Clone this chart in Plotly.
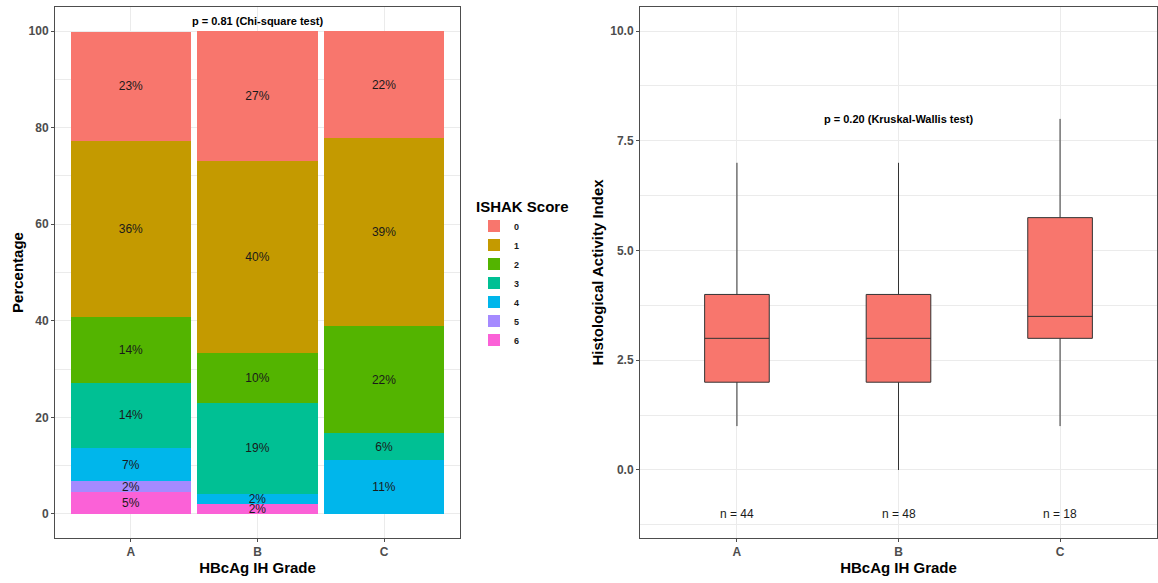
import plotly.graph_objects as go

# ---------------- data ----------------
grades = ["A", "B", "C"]
ishak_scores = ["0", "1", "2", "3", "4", "5", "6"]
# percentage of each ISHAK score within each grade
pct_A = [22.7, 36.4, 13.6, 13.6, 6.8, 2.3, 4.5]
pct_B = [27.1, 39.6, 10.4, 18.8, 2.1, 0.0, 2.1]
pct_C = [22.2, 38.9, 22.2, 5.6, 11.1, 0.0, 0.0]
score_colors = ["#F8766D", "#C49A00", "#53B400", "#00C094", "#00B6EB", "#A58AFF", "#FB61D7"]

# box statistics of Histological Activity Index per grade
hai_lower = [1.0, 0.0, 1.0]
hai_q1 = [2.0, 2.0, 3.0]
hai_median = [3.0, 3.0, 3.5]
hai_q3 = [4.0, 4.0, 5.75]
hai_upper = [7.0, 7.0, 8.0]
n_labels = ["n = 44", "n = 48", "n = 18"]
n_label_y = -1.0

p_left = "p = 0.81 (Chi-square test)"
p_right = "p = 0.20 (Kruskal-Wallis test)"

# ---------------- figure ----------------
W, H = 1158, 583
ml, mr, mt, mb = 0, 1, 7, 45
pw = W - ml - mr
fig = go.Figure()

font_family = "Liberation Sans, Arial, sans-serif"
grid = "#EBEBEB"
border = "#4D4D4D"

by_grade = [pct_A, pct_B, pct_C]
# stack from score 6 at the bottom to score 0 at the top
for i in reversed(range(len(ishak_scores))):
    ys = [g[i] if g[i] > 0 else None for g in by_grade]
    txt = [f"{int(g[i] + 0.5)}%" if g[i] > 0 else "" for g in by_grade]
    fig.add_trace(go.Bar(
        x=grades, y=ys, name=ishak_scores[i],
        marker=dict(color=score_colors[i], line=dict(width=0)),
        text=txt, textposition="inside", insidetextanchor="middle",
        textangle=0, constraintext="none",
        textfont=dict(color="#1A1A1A", size=12, family=font_family),
        xaxis="x", yaxis="y", showlegend=True,
    ))

fig.add_trace(go.Box(
    x=grades, q1=hai_q1, median=hai_median, q3=hai_q3,
    lowerfence=hai_lower, upperfence=hai_upper,
    fillcolor="#F8766D", line=dict(color="#333333", width=1),
    width=0.4, whiskerwidth=0, showlegend=False,
    xaxis="x2", yaxis="y2",
))

axis_common = dict(
    showline=True, mirror=True, linecolor=border, linewidth=1,
    ticks="outside", ticklen=3, tickcolor=border,
    tickfont=dict(size=12, color="#4D4D4D", family=font_family, weight="bold"),
    gridcolor=grid, gridwidth=1, zeroline=False,
)
title_font = dict(size=15, color="black", family=font_family, weight="bold")

fig.update_layout(
    width=W, height=H,
    margin=dict(l=ml, r=mr, t=mt, b=mb),
    paper_bgcolor="white", plot_bgcolor="white",
    barmode="stack", bargap=0.05,
    font=dict(family=font_family),
    uniformtext=dict(minsize=12, mode="show"),
    xaxis=dict(domain=[55 / pw, 460 / pw], anchor="y", range=[-0.6, 2.6],
               title=dict(text="HBcAg IH Grade", font=title_font, standoff=4),
               **axis_common),
    yaxis=dict(domain=[0, 1], anchor="x", range=[-5, 105],
               tickvals=[0, 20, 40, 60, 80, 100],
               minor=dict(tickvals=[10, 30, 50, 70, 90], showgrid=True,
                          gridcolor=grid, gridwidth=0.5, ticks=""),
               title=dict(text="Percentage", font=title_font, standoff=1),
               **axis_common),
    xaxis2=dict(domain=[640 / pw, 1.0], anchor="y2", range=[-0.6, 2.6],
                title=dict(text="HBcAg IH Grade", font=title_font, standoff=4),
                **axis_common),
    yaxis2=dict(domain=[0, 1], anchor="x2", range=[-1.55, 10.55],
                tickvals=[0, 2.5, 5, 7.5, 10], tickformat=".1f",
                minor=dict(tickvals=[-1.25, 1.25, 3.75, 6.25, 8.75], showgrid=True,
                           gridcolor=grid, gridwidth=0.5, ticks=""),
                title=dict(text="Histological Activity Index", font=title_font, standoff=2),
                **axis_common),
    legend=dict(
        x=474 / pw, y=1 - (192 - mt) / (H - mt - mb), xanchor="left", yanchor="top",
        traceorder="reversed", tracegroupgap=0,
        title=dict(text="ISHAK Score", font=dict(size=15, color="black", family=font_family, weight="bold")),
        font=dict(size=9, color="#1A1A1A", family=font_family, weight="bold"),
        itemsizing="constant", bgcolor="rgba(0,0,0,0)",
    ),
    annotations=[
        dict(x=grades[1], y=102, xref="x", yref="y", text=p_left, showarrow=False,
             font=dict(size=11, color="black", family=font_family, weight="bold")),
        dict(x=grades[1], y=8.0, xref="x2", yref="y2", text=p_right, showarrow=False,
             font=dict(size=11, color="black", family=font_family, weight="bold")),
    ] + [
        dict(x=g, y=n_label_y, xref="x2", yref="y2", text=t, showarrow=False,
             font=dict(size=12, color="#1A1A1A", family=font_family))
        for g, t in zip(grades, n_labels)
    ],
)

fig.write_html("out.html", config={"displayModeBar": False},
               post_script="document.body.style.margin='0';")
